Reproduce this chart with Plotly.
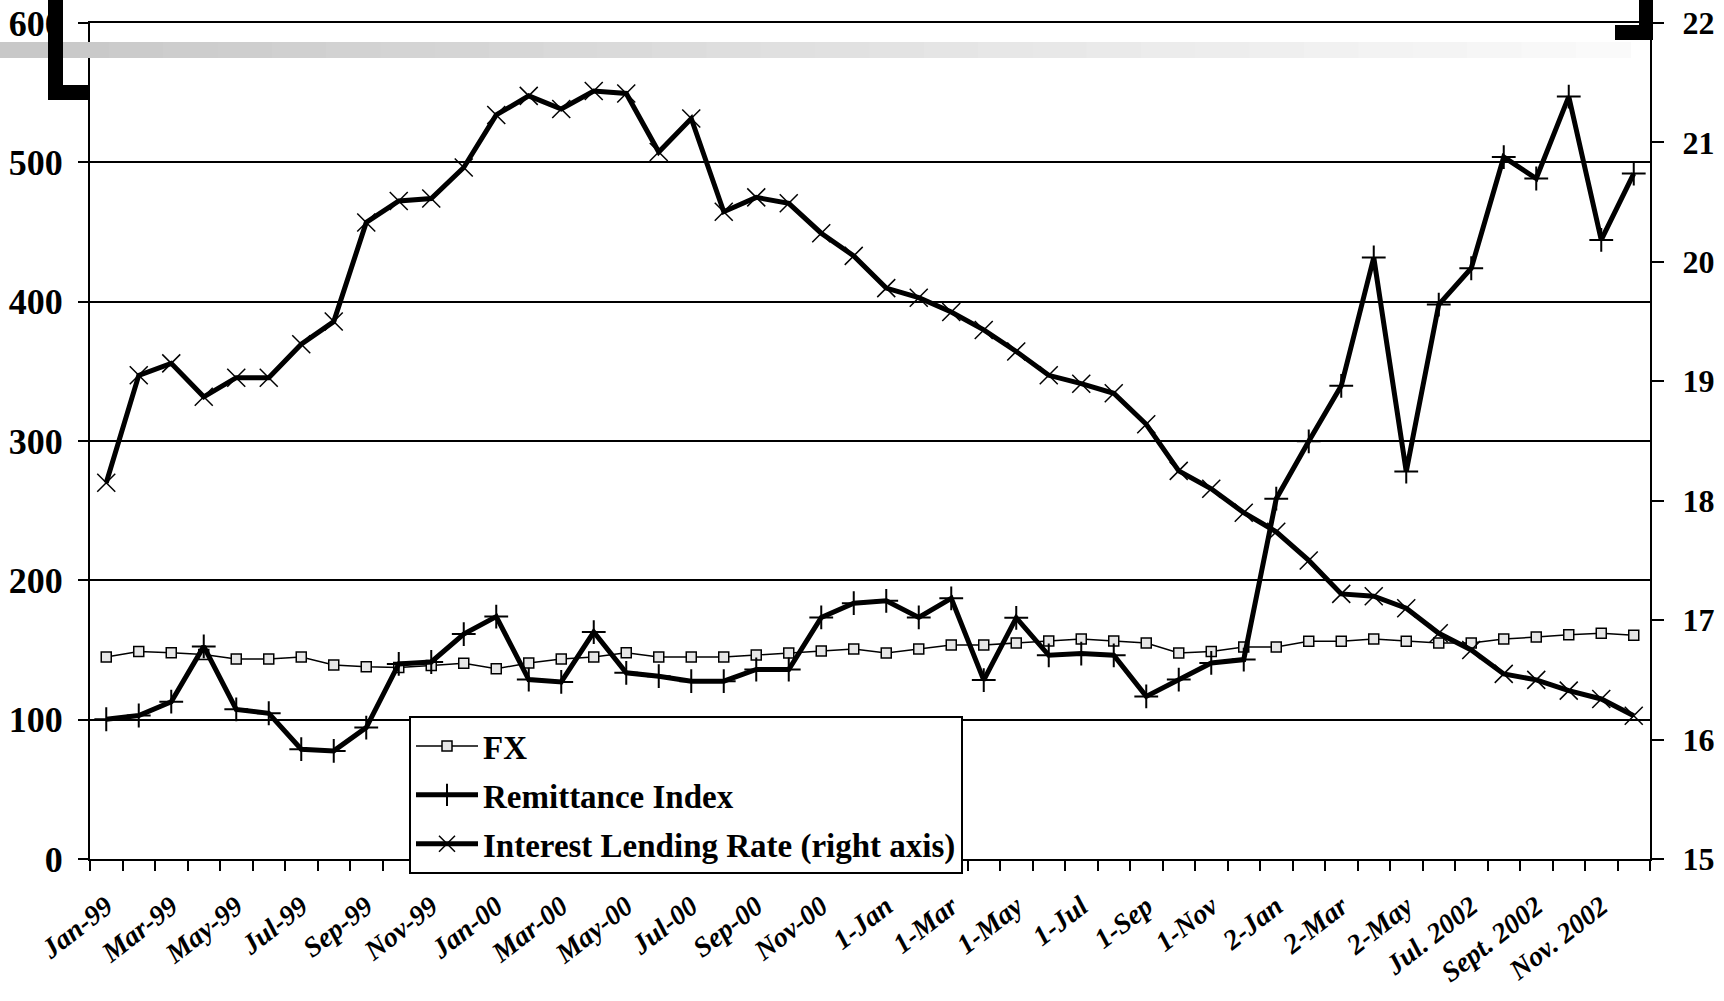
import plotly.graph_objects as go

MON = ["Jan", "Feb", "Mar", "Apr", "May", "Jun", "Jul", "Aug", "Sep", "Oct", "Nov", "Dec"]
YEARS = ["99", "00", "01", "02"]
months = [f"{m}-{y}" for y in YEARS for m in MON]

tick_labels = ["Jan-99", "Mar-99", "May-99", "Jul-99", "Sep-99", "Nov-99",
               "Jan-00", "Mar-00", "May-00", "Jul-00", "Sep-00", "Nov-00",
               "1-Jan", "1-Mar", "1-May", "1-Jul", "1-Sep", "1-Nov",
               "2-Jan", "2-Mar", "2-May", "Jul. 2002", "Sept. 2002", "Nov. 2002"]

fx = [145, 149, 148, 146.7, 143.6, 143.6, 145, 139.3, 137.9, 137.4, 138.8, 140.5,
      136.5, 140.7, 143.6, 145, 148, 145, 145, 145, 146.4, 147.9, 149.3, 150.7,
      147.9, 150.7, 153.6, 153.6, 155, 156.4, 157.9, 156.4, 155, 147.9, 149, 152.1,
      152.1, 156.2, 156.2, 157.9, 156.2, 155, 155, 157.9, 159.3, 161, 162.1, 160.5]

remittance = [100.3, 103, 112.9, 152.6, 107.4, 104.6, 78.8, 77.6, 94.3, 140, 141.4, 161.4,
              174, 128.8, 127.1, 162.9, 133.6, 131.2, 127.6, 127.6, 136, 136, 173.4, 183.6,
              185.3, 173.4, 187.1, 128.4, 173.1, 146.2, 147.4, 146.2, 116.7, 128.8, 140.7, 143.1,
              258.6, 299.8, 339.6, 431.7, 278.1, 397.9, 424, 503.8, 488.4, 547.2, 444.3, 491.9]

interest = [18.15, 19.05, 19.15, 18.87, 19.03, 19.03, 19.31, 19.50, 20.33, 20.51, 20.53, 20.79,
            21.23, 21.39, 21.28, 21.43, 21.41, 20.92, 21.20, 20.42, 20.54, 20.49, 20.24, 20.05,
            19.78, 19.70, 19.58, 19.43, 19.25, 19.05, 18.98, 18.90, 18.64, 18.25, 18.10, 17.90,
            17.74, 17.50, 17.22, 17.20, 17.10, 16.89, 16.75, 16.55, 16.50, 16.41, 16.34, 16.20]

FONT = "Liberation Serif"

fig = go.Figure()
fig.add_trace(go.Scatter(
    x=months, y=fx, name="FX", mode="lines+markers", legendgroup="a",
    line=dict(color="black", width=1.5),
    marker=dict(symbol="square", size=10, color="#e6e6e6", line=dict(color="black", width=1.5)),
))
fig.add_trace(go.Scatter(
    x=months, y=remittance, name="Remittance Index", mode="lines+markers", legendgroup="b",
    line=dict(color="black", width=5),
    marker=dict(symbol="cross-thin", size=17, color="black", line=dict(color="black", width=2)),
))
fig.add_trace(go.Scatter(
    x=months, y=interest, name="Interest Lending Rate (right axis)", mode="lines+markers",
    legendgroup="c", yaxis="y2",
    line=dict(color="black", width=5),
    marker=dict(symbol="x-thin", size=18, color="black", line=dict(color="black", width=1.5)),
))

ticktext = [tick_labels[i // 2] if i % 2 == 0 else "" for i in range(len(months))]


def px_x(px):
    return (px - 90) / 1560


def px_y(py):
    return (859 - py) / 836


shapes = []
# faded grey band across the top (scan artefact)
n = 30
for k in range(n):
    g = int(200 + (250 - 200) * k / (n - 1))
    shapes.append(dict(type="rect", xref="paper", yref="paper", layer="above",
                       x0=px_x(1630 * k / n), x1=px_x(1630 * (k + 1) / n + 1),
                       y0=px_y(58), y1=px_y(42),
                       fillcolor=f"rgb({g},{g},{g})", line=dict(width=0)))

# corner marks
for (x0, x1, y0, y1) in [(48, 63, 0, 100), (48, 89, 85, 100), (1639, 1653, 0, 40), (1615, 1653, 25, 40)]:
    shapes.append(dict(type="rect", xref="paper", yref="paper", layer="above",
                       x0=px_x(x0), x1=px_x(x1), y0=px_y(y1), y1=px_y(y0),
                       fillcolor="black", line=dict(width=0)))

fig.update_layout(
    width=1724, height=1001,
    margin=dict(l=90, r=74, t=23, b=142, pad=0, autoexpand=False),
    paper_bgcolor="white", plot_bgcolor="rgba(0,0,0,0)",
    font=dict(family=FONT, color="black"),
    showlegend=True,
    legend=dict(
        x=px_x(409), y=px_y(716), xanchor="left", yanchor="top",
        bgcolor="white", bordercolor="black", borderwidth=2,
        font=dict(family=FONT, size=33, weight="bold", color="black"),
        tracegroupgap=3, itemwidth=62,
    ),
    xaxis=dict(
        type="category", categoryorder="array", categoryarray=months,
        tickmode="array", tickvals=months, ticktext=ticktext,
        tickson="boundaries", ticks="outside", ticklen=10, tickwidth=1.5, tickcolor="black",
        tickangle=-38, ticklabelstandoff=18,
        tickfont=dict(family=FONT, size=28, weight="bold", style="italic", color="black"),
        showline=True, linecolor="black", linewidth=2, mirror=True,
        showgrid=False, zeroline=False, range=[-0.5, 47.5], automargin=False,
    ),
    yaxis=dict(
        range=[0, 600], tickvals=[0, 100, 200, 300, 400, 500, 600],
        ticks="outside", ticklen=10, tickwidth=1.5, tickcolor="black",
        tickfont=dict(family=FONT, size=36, weight="bold", color="black"),
        ticklabelstandoff=8, automargin=False,
        showline=True, linecolor="black", linewidth=2,
        showgrid=True, gridcolor="black", gridwidth=1.5, zeroline=False,
    ),
    yaxis2=dict(
        range=[15, 22], dtick=1, overlaying="y", side="right",
        ticks="outside", ticklen=12, tickwidth=1.5, tickcolor="black",
        tickfont=dict(family=FONT, size=32, weight="bold", color="black"),
        ticklabelstandoff=12, automargin=False,
        showline=True, linecolor="black", linewidth=2,
        showgrid=False, zeroline=False,
    ),
    shapes=shapes,
)

fig.write_html("out.html", config={"displayModeBar": False},
               post_script="document.body.style.margin='0px';document.body.style.overflow='hidden';")
